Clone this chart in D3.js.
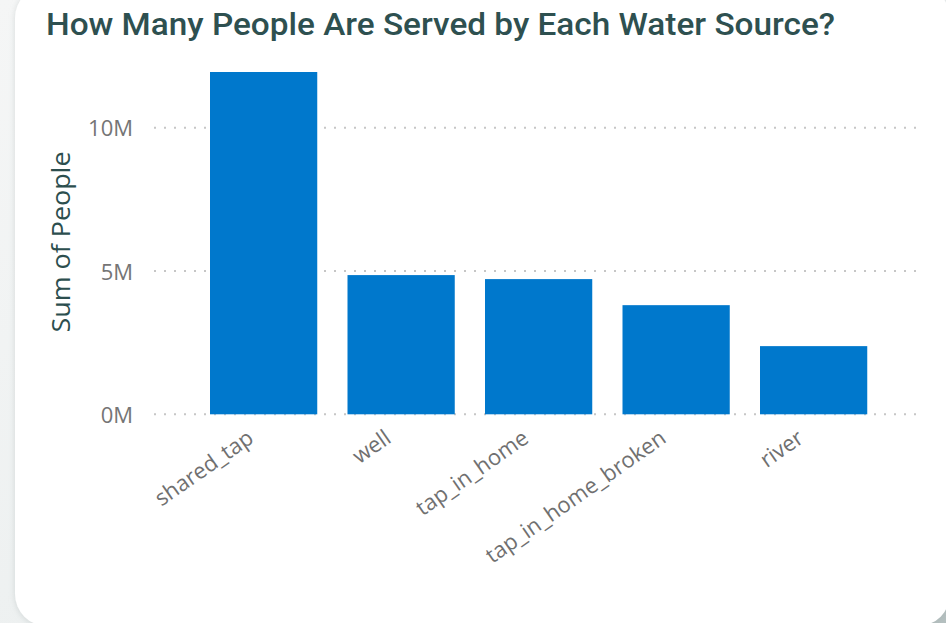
<!DOCTYPE html>
<html>
<head>
<meta charset="utf-8">
<script src="https://cdn.jsdelivr.net/npm/d3@7"></script>
<style>
  html, body { margin: 0; padding: 0; background: #f1f3f3; }
  svg { display: block; }
</style>
</head>
<body>
<svg id="chart" width="946" height="623"></svg>
<script>
// ---- data ----
const categories = ["shared_tap", "well", "tap_in_home", "tap_in_home_broken", "river"];
const people = [11950000, 4860000, 4720000, 3810000, 2380000];
const tickValues = [0, 5000000, 10000000];
const tickLabels = ["0M", "5M", "10M"];
const titleText = "How Many People Are Served by Each Water Source?";
const yAxisTitle = "Sum of People";

const W = 946, H = 623;
const svg = d3.select("#chart");

// background + card
const defs = svg.append("defs");
const bg = defs.append("linearGradient").attr("id", "bg")
  .attr("x1", "0").attr("y1", "0").attr("x2", "1").attr("y2", "1");
bg.append("stop").attr("offset", "0").attr("stop-color", "#f5f6f6");
bg.append("stop").attr("offset", "0.75").attr("stop-color", "#eaeeee");
bg.append("stop").attr("offset", "1").attr("stop-color", "#b4bfbf");
const sh = defs.append("filter").attr("id", "shadow")
  .attr("x", "-10%").attr("y", "-10%").attr("width", "120%").attr("height", "120%");
sh.append("feDropShadow").attr("dx", 0).attr("dy", 1).attr("stdDeviation", 3)
  .attr("flood-color", "#9aa5a5").attr("flood-opacity", 0.35);

svg.append("rect").attr("width", W).attr("height", H).attr("fill", "url(#bg)");
svg.append("rect")
  .attr("x", 15).attr("y", -14).attr("width", 935).attr("height", 640)
  .attr("rx", 32).attr("ry", 32)
  .attr("fill", "#ffffff").attr("filter", "url(#shadow)");

// title
svg.append("text")
  .attr("x", 46).attr("y", 35)
  .attr("font-family", "Roboto, 'DejaVu Sans Condensed', sans-serif")
  .attr("font-weight", 500)
  .attr("font-size", 31.5)
  .attr("fill", "#2e5050")
  .attr("textLength", 789)
  .attr("lengthAdjust", "spacingAndGlyphs")
  .text(titleText);

// scales
const x = d3.scaleBand()
  .domain(categories)
  .range([141.25, 936])
  .paddingInner(0.22)
  .paddingOuter(0.5);

const y = d3.scaleLinear()
  .domain([0, d3.max(people)])
  .range([414.3, 72]);

// gridlines (dotted)
const grid = svg.append("g");
grid.selectAll("line")
  .data(tickValues)
  .join("line")
  .attr("x1", 154).attr("x2", 918)
  .attr("y1", d => y(d)).attr("y2", d => y(d))
  .attr("stroke", "#c6c6c6")
  .attr("stroke-width", 2)
  .attr("stroke-dasharray", "2,8");

// bars
svg.append("g").selectAll("rect")
  .data(categories)
  .join("rect")
  .attr("x", d => x(d))
  .attr("y", (d, i) => y(people[i]))
  .attr("width", x.bandwidth())
  .attr("height", (d, i) => y(0) - y(people[i]))
  .attr("fill", "#0078cc");

// y axis via d3.axisLeft
const yAxis = d3.axisLeft(y)
  .tickValues(tickValues)
  .tickFormat((d, i) => tickLabels[i])
  .tickSize(0)
  .tickPadding(0);
const yg = svg.append("g").attr("transform", "translate(133,0)").call(yAxis);
yg.select(".domain").remove();
yg.selectAll("text")
  .attr("font-family", "'Open Sans', 'Noto Sans', sans-serif")
  .attr("font-size", 22)
  .attr("fill", "#757575")
  .attr("dy", "0.36em");

// x axis via d3.axisBottom
const xAxis = d3.axisBottom(x).tickSize(0).tickPadding(0);
const xg = svg.append("g").call(xAxis);
xg.select(".domain").remove();
xg.selectAll(".tick").attr("transform", d => `translate(${x(d) + x.bandwidth() / 2 - 13},435)`);
xg.selectAll("text")
  .attr("font-family", "'Open Sans', 'Noto Sans', sans-serif")
  .attr("font-size", 22)
  .attr("fill", "#707070")
  .attr("text-anchor", "end")
  .attr("y", 0)
  .attr("dy", "0.35em")
  .attr("transform", "rotate(-35)");

// y axis title
svg.append("text")
  .attr("transform", "translate(70,242) rotate(-90)")
  .attr("text-anchor", "middle")
  .attr("font-family", "'Open Sans', 'Noto Sans', sans-serif")
  .attr("font-size", 25)
  .attr("fill", "#2c4e4e")
  .attr("textLength", 181)
  .attr("lengthAdjust", "spacingAndGlyphs")
  .text(yAxisTitle);
</script>
</body>
</html>
